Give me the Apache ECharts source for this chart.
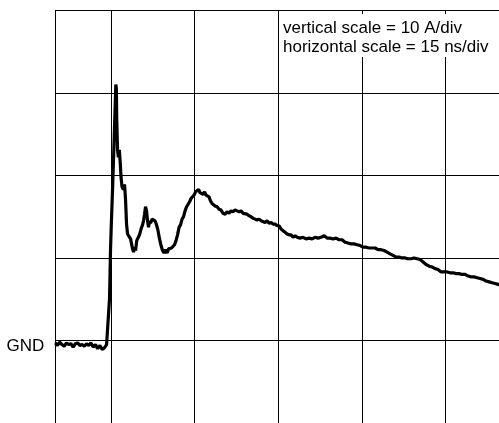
<!DOCTYPE html>
<html>
<head>
<meta charset="utf-8">
<script src="https://cdn.jsdelivr.net/npm/echarts@6/dist/echarts.min.js"></script>
<style>
html,body{margin:0;padding:0;background:#fff;}
#chart{width:499px;height:423px;}
</style>
</head>
<body>
<div id="chart"></div>
<script>
// time in ns (15 ns/div), current in A (10 A/div), 0 A = GND
var timesNs = [
-10.0,-9.6,-9.2,-8.8,-8.4,-8.0,-7.6,-7.2,-6.8,-6.4,-6.0,-5.6,-5.2,-4.8,-4.4,-4.0,-3.6,-3.2,-2.8,-2.4,-2.0,-1.6,-1.2,-0.8,
-0.45,-0.27,-0.09,0.05,0.27,0.50,0.72,0.86,0.95,1.02,1.17,1.31,1.49,1.67,1.79,1.97,2.21,2.42,2.60,2.78,2.96,3.23,3.50,3.68,3.86,
4.04,4.22,4.40,4.61,4.84,5.11,5.38,5.65,5.83,6.01,6.19,6.37,6.55,6.73,6.91,7.09,7.36,7.63,7.89,8.16,8.43,8.70,8.97,9.24,9.51,9.78,
10.05,10.32,10.59,10.86,11.12,11.39,11.66,11.93,12.20,12.47,12.74,13.01,13.28,13.55,13.82,14.09,14.35,14.62,14.89,15.16,15.43,15.70,
15.97,16.24,16.51,16.78,17.05,17.32,17.58,17.85,18.12,18.39,18.66,19.02,19.38,19.74,20.10,20.46,20.81,21.17,21.53,21.89,22.25,22.61,
22.97,23.33,23.69,24.04,24.40,24.76,25.12,25.48,25.84,26.20,26.56,26.92,27.27,27.63,27.99,28.35,28.71,29.07,29.43,29.79,30.15,30.50,
30.86,31.22,31.58,31.94,32.30,32.66,33.02,33.38,33.91,34.45,34.99,35.53,36.07,36.60,37.14,37.68,38.22,38.76,39.30,39.83,40.37,40.91,
41.45,41.99,42.52,43.06,43.60,44.14,44.68,45.22,45.75,46.29,46.83,47.37,47.91,48.45,48.98,49.52,50.06,50.60,51.14,51.68,52.21,52.75,
53.29,53.83,54.37,54.91,55.44,55.98,56.52,57.06,57.60,58.14,58.67,59.21,59.75,60.29,60.83,61.37,61.90,62.44,62.98,63.52,64.06,64.60,
65.13,65.67,66.21,66.75,67.29,67.83,68.36,68.90,69.44,69.80
];
var currentsA = [
-0.3,-0.6,-0.2,-0.5,-0.7,-0.3,-0.5,-0.4,-0.8,-0.4,-0.3,-0.6,-0.5,-0.7,-0.4,-0.6,-0.3,-0.8,-0.5,-1.0,-0.6,-1.1,-0.9,-0.5,
-0.3,5.1,11.1,14.1,18.3,23.1,28.0,31.0,30.6,26.8,23.1,22.2,23.1,21.3,19.8,18.6,18.3,18.9,17.1,14.1,12.9,13.1,12.3,11.7,11.1,
10.7,11.3,10.9,12.1,12.3,12.8,13.5,14.0,14.5,15.3,16.2,15.7,14.5,13.7,14.5,14.2,14.7,14.7,14.5,14.0,13.3,12.3,11.5,10.9,10.6,11.0,
10.6,11.1,10.9,11.2,11.1,11.6,12.1,12.8,13.7,14.0,14.7,15.0,15.7,16.2,16.4,16.8,17.2,17.4,17.6,18.0,18.1,18.3,
17.9,18.1,17.7,18.0,17.6,17.8,17.4,16.9,16.6,16.5,16.3,16.2,15.9,15.8,15.4,15.3,15.6,15.4,15.7,15.6,15.8,15.7,
15.6,15.7,15.4,15.3,15.3,15.1,15.0,14.8,14.7,14.6,14.7,14.5,14.6,14.3,14.5,14.2,14.3,14.1,14.1,13.9,13.9,13.5,
13.3,13.1,12.9,12.8,12.8,12.5,12.7,12.5,12.4,12.5,12.3,12.4,12.3,12.5,12.4,12.5,12.7,12.4,12.4,12.3,12.4,12.2,
12.2,11.9,11.8,11.7,11.7,11.6,11.5,11.3,11.3,11.2,11.2,11.2,11.0,11.0,10.9,10.7,10.5,10.3,10.1,10.1,10.0,10.0,
9.9,9.9,10.0,9.9,9.8,9.5,9.2,9.0,8.9,8.7,8.6,8.3,8.3,8.3,8.2,8.2,8.1,8.1,8.0,8.0,7.8,7.7,
7.7,7.6,7.5,7.4,7.2,7.1,7.0,6.9,6.8,6.7
];
var verticalDivisionsNs = [0, 15, 30, 45, 60];
var gndLabel = 'GND';
var noteLines = ['vertical scale = 10 A/div', 'horizontal scale = 15 ns/div'];

var FONT = '"Liberation Sans", Arial, Helvetica, sans-serif';
var traceData = timesNs.map(function (t, i) { return [t, currentsA[i]]; });

var chart = echarts.init(document.getElementById('chart'), null, {renderer: 'canvas'});
chart.setOption({
  animation: false,
  backgroundColor: '#fff',
  grid: {left: 55.3, right: 0, top: 10.3, bottom: -2},
  xAxis: {
    type: 'value', min: -10, max: 69.6, show: false
  },
  yAxis: {
    type: 'value', min: -10, max: 40, interval: 10,
    axisLine: {show: true, onZero: false, lineStyle: {color: '#000', width: 1}},
    axisTick: {show: false},
    splitLine: {show: true, showMinLine: true, showMaxLine: true, lineStyle: {color: '#000', width: 1}},
    axisLabel: {
      margin: 11,
      color: '#000',
      fontFamily: FONT,
      fontSize: 17,
      verticalAlign: 'top',
      lineHeight: 11,
      formatter: function (v) { return v === 0 ? gndLabel : ''; }
    }
  },
  series: [{
    type: 'line',
    data: traceData,
    showSymbol: false,
    symbol: 'none',
    clip: true,
    lineStyle: {color: '#000', width: 3.2},
    z: 3,
    markLine: {
      silent: true,
      symbol: 'none',
      animation: false,
      label: {show: false},
      emphasis: {disabled: true},
      lineStyle: {color: '#000', width: 1, type: 'solid'},
      data: verticalDivisionsNs.map(function (v) { return {xAxis: v}; })
    }
  }],
  graphic: [{
    type: 'text',
    left: 281,
    top: 14,
    z: 100,
    style: {
      text: noteLines.join('\n'),
      fontFamily: FONT,
      fontSize: 17,
      lineHeight: 19,
      fill: '#000',
      backgroundColor: '#fff',
      padding: [5, 2, 0, 2]
    }
  }]
});
</script>
</body>
</html>
